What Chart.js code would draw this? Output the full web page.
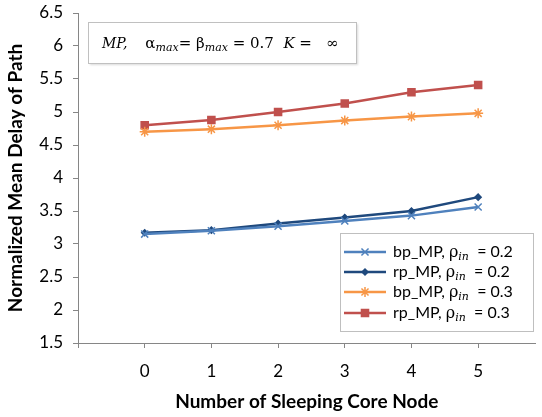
<!DOCTYPE html>
<html lang="en">
<head>
    <meta charset="UTF-8">
    <title>Normalized Mean Delay of Path</title>
    <script src="https://cdn.jsdelivr.net/npm/chart.js"></script>
    <style>
        body {
            margin: 0;
            background: #ffffff;
        }

        .chart-box {
            position: relative;
            width: 542px;
            height: 417px;
        }
    </style>
</head>
<body>
    <div class="chart-box">
        <canvas id="delayChart" width="542" height="417"></canvas>
    </div>

    <script>
        // values
        const sleepingNodes = [0, 1, 2, 3, 4, 5];
        const bpRho02 = [3.15, 3.20, 3.27, 3.35, 3.43, 3.56];
        const rpRho02 = [3.17, 3.21, 3.31, 3.40, 3.50, 3.71];
        const bpRho03 = [4.70, 4.74, 4.80, 4.87, 4.93, 4.98];
        const rpRho03 = [4.80, 4.88, 5.00, 5.13, 5.30, 5.41];
        const seriesNames = ['bp_MP', 'rp_MP', 'bp_MP', 'rp_MP'];
        const seriesRho = ['0.2', '0.2', '0.3', '0.3'];
        const xTicks = [-1, 0, 1, 2, 3, 4, 5]; // -1 is the unlabeled tick at the axis corner
        const yTicks = [1.5, 2, 2.5, 3, 3.5, 4, 4.5, 5, 5.5, 6, 6.5];

        const uiFont = 'Lato, "Open Sans", sans-serif';
        const mathFont = '"DejaVu Serif", "Liberation Serif", serif';

        function toPoints(values) {
            return sleepingNodes.map((x, i) => ({ x: x, y: values[i] }));
        }

        function makeSeries(i, values, color, style, radius) {
            return {
                label: seriesNames[i] + ', \u03c1in = ' + seriesRho[i],
                data: toPoints(values),
                borderColor: color,
                backgroundColor: color,
                pointStyle: style,
                pointRadius: radius,
                pointBorderWidth: 1.5,
                borderWidth: 2.5,
                tension: 0
            };
        }

        // draws the two framed boxes: formula note and legend
        const notesPlugin = {
            id: 'notes',
            afterDraw(chart) {
                const ctx = chart.ctx;
                ctx.save();

                // formula box
                ctx.fillStyle = '#ffffff';
                ctx.strokeStyle = '#c0c0c0';
                ctx.lineWidth = 1;
                ctx.shadowColor = 'rgba(0,0,0,0.15)';
                ctx.shadowOffsetX = 1;
                ctx.shadowOffsetY = 1;
                ctx.shadowBlur = 2;
                ctx.fillRect(88.5, 22.5, 268, 41);
                ctx.shadowColor = 'transparent';
                ctx.strokeRect(88.5, 22.5, 268, 41);

                ctx.fillStyle = '#000000';
                ctx.textBaseline = 'alphabetic';
                let x = 102;
                const base = 48;
                const put = (txt, font, dy) => {
                    ctx.font = font;
                    ctx.fillText(txt, x, base + (dy || 0));
                    x += ctx.measureText(txt).width;
                };
                put('MP,', 'italic 14px ' + mathFont);
                x += 18;
                put('\u03b1', '15px ' + mathFont);
                put('max', 'italic 11px ' + mathFont, 3);
                put('= \u03b2', '15px ' + mathFont);
                put('max', 'italic 11px ' + mathFont, 3);
                put(' = 0.7  ', '15px ' + mathFont);
                put('K', 'italic 15px ' + mathFont);
                put(' =   \u221e', '15px ' + mathFont);

                // legend box
                ctx.strokeStyle = '#bfbfbf';
                ctx.lineWidth = 1;
                ctx.strokeRect(340.5, 233.5, 193, 98);
                const rows = [252, 272, 292, 313];
                chart.data.datasets.forEach((ds, i) => {
                    const y = rows[i];
                    ctx.strokeStyle = ds.borderColor;
                    ctx.fillStyle = ds.backgroundColor;
                    ctx.lineWidth = ds.borderWidth;
                    ctx.beginPath();
                    ctx.moveTo(344, y);
                    ctx.lineTo(386, y);
                    ctx.stroke();
                    ctx.lineWidth = ds.pointBorderWidth;
                    Chart.helpers.drawPoint(ctx, {
                        pointStyle: ds.pointStyle,
                        radius: ds.pointRadius,
                        borderWidth: ds.pointBorderWidth,
                        rotation: 0
                    }, 365, y);

                    ctx.fillStyle = '#000000';
                    x = 393;
                    const b = y + 5;
                    const put2 = (txt, font, dy) => {
                        ctx.font = font;
                        ctx.fillText(txt, x, b + (dy || 0));
                        x += ctx.measureText(txt).width;
                    };
                    put2(seriesNames[i] + ', ', '16px ' + uiFont);
                    put2('\u03c1', '16px ' + mathFont);
                    put2('in', 'italic 11px ' + mathFont, 3);
                    put2('  = ' + seriesRho[i], '16px ' + uiFont);
                });

                ctx.restore();
            }
        };

        const ctx = document.getElementById('delayChart').getContext('2d');
        new Chart(ctx, {
            type: 'line',
            data: {
                datasets: [
                    makeSeries(0, bpRho02, '#4f81bd', 'crossRot', 5),
                    makeSeries(1, rpRho02, '#1f497d', 'rectRot', 3),
                    makeSeries(2, bpRho03, '#f79646', 'star', 5),
                    makeSeries(3, rpRho03, '#c0504d', 'rect', 5)
                ]
            },
            options: {
                responsive: false,
                animation: false,
                layout: { padding: { top: 13, right: 1, left: 0, bottom: 0 } },
                plugins: {
                    legend: { display: false },
                    tooltip: { enabled: false }
                },
                scales: {
                    x: {
                        type: 'linear',
                        min: -1,
                        max: 5.86,
                        afterBuildTicks: axis => {
                            axis.ticks = xTicks.map(v => ({ value: v }));
                        },
                        afterFit: axis => { axis.height = 74; },
                        ticks: {
                            autoSkip: false,
                            maxRotation: 0,
                            color: '#000000',
                            padding: 13,
                            font: { family: uiFont, size: 17 },
                            callback: v => (v < 0 ? '' : String(v))
                        },
                        grid: {
                            drawOnChartArea: false,
                            drawTicks: true,
                            tickLength: 5,
                            color: '#868686'
                        },
                        border: { color: '#868686', width: 1 },
                        title: {
                            display: true,
                            text: 'Number of Sleeping Core Node',
                            color: '#000000',
                            font: { family: uiFont, size: 19, weight: 'bold' },
                            padding: { top: 6 }
                        }
                    },
                    y: {
                        min: 1.5,
                        max: 6.5,
                        afterBuildTicks: axis => {
                            axis.ticks = yTicks.map(v => ({ value: v }));
                        },
                        afterFit: axis => {
                            axis.width = 78;
                            axis.paddingTop = 0;
                        },
                        ticks: {
                            autoSkip: false,
                            color: '#000000',
                            padding: 10,
                            font: { family: uiFont, size: 17 },
                            callback: v => String(v)
                        },
                        grid: {
                            drawOnChartArea: false,
                            drawTicks: true,
                            tickLength: 5,
                            color: '#868686'
                        },
                        border: { color: '#868686', width: 1 },
                        title: {
                            display: true,
                            text: 'Normalized Mean Delay of Path',
                            color: '#000000',
                            font: { family: uiFont, size: 19, weight: 'bold' },
                            padding: { bottom: 4 }
                        }
                    }
                }
            },
            plugins: [notesPlugin]
        });
    </script>
</body>
</html>
